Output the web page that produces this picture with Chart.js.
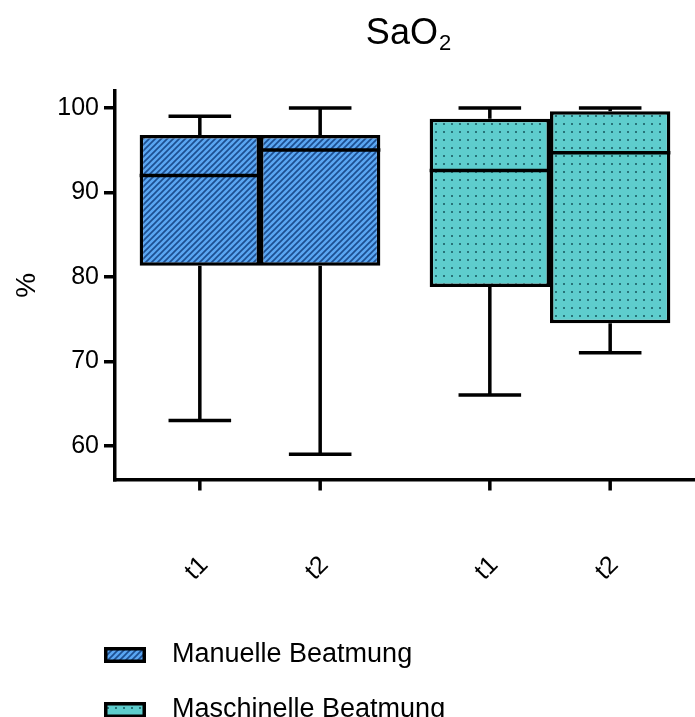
<!DOCTYPE html>
<html>
<head>
<meta charset="utf-8">
<title>SaO2</title>
<script src="https://cdn.jsdelivr.net/npm/chart.js@4"></script>
<style>
  html, body { margin: 0; padding: 0; background: #fff; }
  #chart { display: block; }
</style>
</head>
<body>
<canvas id="chart" width="695" height="717"></canvas>
<script>
// Groups (ventilation mode) and time points
const groups = ['Manuelle Beatmung', 'Maschinelle Beatmung'];
const timepoints = ['t1', 't2'];
const yTicks = [60, 70, 80, 90, 100];

// Box plot statistics per time point, one value per group
const t1Min    = [63, 66];
const t1Q1     = [81.3, 78.8];
const t1Median = [92, 92.6];
const t1Q3     = [96.8, 98.7];
const t1Max    = [99, 100];

const t2Min    = [59, 71];
const t2Q1     = [81.3, 74.5];
const t2Median = [95, 94.7];
const t2Q3     = [96.8, 99.6];
const t2Max    = [100, 100];

const FONT = "'Liberation Sans', Arial, Helvetica, sans-serif";
const INK = '#000';
const LINE = 3.5;

// Fill patterns: blue diagonal hatch and teal dot grid
function hatchPattern() {
  const c = document.createElement('canvas');
  c.width = c.height = 6;
  const g = c.getContext('2d');
  g.fillStyle = '#5aa6f2';
  g.fillRect(0, 0, 6, 6);
  g.strokeStyle = '#1d4f91';
  g.lineWidth = 1.7;
  g.beginPath();
  g.moveTo(-1, 7); g.lineTo(7, -1);
  g.moveTo(-1, 1); g.lineTo(1, -1);
  g.moveTo(5, 7); g.lineTo(7, 5);
  g.stroke();
  return g.createPattern(c, 'repeat');
}
function dotPattern() {
  const c = document.createElement('canvas');
  c.width = c.height = 8;
  const g = c.getContext('2d');
  g.fillStyle = '#5ecdcd';
  g.fillRect(0, 0, 8, 8);
  g.fillStyle = '#287479';
  g.fillRect(3, 3, 2, 2);
  return g.createPattern(c, 'repeat');
}
const groupFills = [hatchPattern(), dotPattern()];

function boxDataset(label, q1, q3, min, median, max) {
  return {
    label,
    data: q1.map((v, i) => [v, q3[i]]),
    whiskerMin: min,
    whiskerMax: max,
    median: median,
    backgroundColor: groupFills,
    borderColor: INK,
    borderWidth: LINE,
    borderSkipped: false,
    categoryPercentage: 0.83,
    barPercentage: 1
  };
}

// Whiskers, caps and medians on top of the floating bars
const boxPlotPlugin = {
  id: 'boxWhiskers',
  afterDatasetsDraw(chart) {
    const { ctx, scales: { y } } = chart;
    ctx.save();
    ctx.strokeStyle = INK;
    ctx.lineWidth = LINE;
    chart.data.datasets.forEach((ds, di) => {
      chart.getDatasetMeta(di).data.forEach((bar, i) => {
        const { x, width } = bar.getProps(['x', 'width'], true);
        const [q1, q3] = ds.data[i];
        const yMin = y.getPixelForValue(ds.whiskerMin[i]);
        const yMax = y.getPixelForValue(ds.whiskerMax[i]);
        const yQ1 = y.getPixelForValue(q1);
        const yQ3 = y.getPixelForValue(q3);
        const yMed = y.getPixelForValue(ds.median[i]);
        const cap = width * 0.26;
        ctx.beginPath();
        ctx.moveTo(x, yQ3); ctx.lineTo(x, yMax);
        ctx.moveTo(x - cap, yMax); ctx.lineTo(x + cap, yMax);
        ctx.moveTo(x, yQ1); ctx.lineTo(x, yMin);
        ctx.moveTo(x - cap, yMin); ctx.lineTo(x + cap, yMin);
        ctx.moveTo(x - width / 2, yMed); ctx.lineTo(x + width / 2, yMed);
        ctx.stroke();
      });
    });
    ctx.restore();
  }
};

// Per-box tick marks and rotated time-point labels under the x axis
const xLabelPlugin = {
  id: 'boxTicks',
  afterDraw(chart) {
    const { ctx, chartArea } = chart;
    ctx.save();
    ctx.strokeStyle = INK;
    ctx.lineWidth = LINE;
    ctx.fillStyle = INK;
    ctx.font = `25px ${FONT}`;
    ctx.textAlign = 'center';
    ctx.textBaseline = 'middle';
    chart.data.datasets.forEach((ds, di) => {
      chart.getDatasetMeta(di).data.forEach((bar) => {
        const { x } = bar.getProps(['x'], true);
        ctx.beginPath();
        ctx.moveTo(x, chartArea.bottom);
        ctx.lineTo(x, chartArea.bottom + 11);
        ctx.stroke();
        ctx.save();
        ctx.translate(x - 3, chartArea.bottom + 89);
        ctx.rotate(-Math.PI / 4);
        ctx.fillText(ds.label, 0, 0);
        ctx.restore();
      });
    });
    ctx.restore();
  }
};

// Title with subscript
const titlePlugin = {
  id: 'subTitle',
  afterDraw(chart) {
    const { ctx, chartArea } = chart;
    const main = 'SaO', sub = '2';
    ctx.save();
    ctx.fillStyle = INK;
    ctx.textBaseline = 'alphabetic';
    ctx.textAlign = 'left';
    ctx.font = `36px ${FONT}`;
    const wMain = ctx.measureText(main).width;
    ctx.font = `22px ${FONT}`;
    const wSub = ctx.measureText(sub).width;
    const cx = (chartArea.left + chartArea.right) / 2 + 3;
    const x0 = cx - (wMain + wSub) / 2;
    ctx.font = `36px ${FONT}`;
    ctx.fillText(main, x0, 44);
    ctx.font = `22px ${FONT}`;
    ctx.fillText(sub, x0 + wMain + 1, 50);
    ctx.restore();
  }
};

// Vertical legend below the axis
const legendPlugin = {
  id: 'groupLegend',
  afterDraw(chart) {
    const { ctx } = chart;
    ctx.save();
    ctx.font = `27px ${FONT}`;
    ctx.textAlign = 'left';
    ctx.textBaseline = 'middle';
    groups.forEach((name, i) => {
      const cy = 655 + i * 55;
      ctx.fillStyle = groupFills[i];
      ctx.fillRect(104, cy - 8, 42, 16);
      ctx.strokeStyle = INK;
      ctx.lineWidth = LINE;
      ctx.strokeRect(105.75, cy - 6.25, 38.5, 12.5);
      ctx.fillStyle = INK;
      ctx.fillText(name, 172, cy);
    });
    ctx.restore();
  }
};

new Chart(document.getElementById('chart'), {
  type: 'bar',
  data: {
    labels: groups,
    datasets: [
      boxDataset(timepoints[0], t1Q1, t1Q3, t1Min, t1Median, t1Max),
      boxDataset(timepoints[1], t2Q1, t2Q3, t2Min, t2Median, t2Max)
    ]
  },
  options: {
    responsive: false,
    animation: false,
    devicePixelRatio: 1,
    layout: { padding: { top: 91, right: 0, bottom: 0, left: 0 } },
    plugins: {
      legend: { display: false },
      title: { display: false },
      tooltip: { enabled: false }
    },
    scales: {
      x: {
        grid: { display: false },
        ticks: { display: false },
        border: { display: true, width: LINE, color: INK },
        afterFit: (s) => { s.height = 237.5; }
      },
      y: {
        min: 56,
        max: 102,
        afterBuildTicks: (s) => { s.ticks = yTicks.map(v => ({ value: v })); },
        grid: { drawOnChartArea: false, drawTicks: true, tickLength: 11, lineWidth: LINE, color: INK },
        border: { display: true, width: LINE, color: INK },
        ticks: { color: INK, padding: 5, font: { family: FONT, size: 25 } },
        title: {
          display: true, text: '%', color: INK,
          font: { family: FONT, size: 28 },
          padding: { top: 10, bottom: 0 }
        },
        afterFit: (s) => { s.width = 115; }
      }
    }
  },
  plugins: [boxPlotPlugin, xLabelPlugin, titlePlugin, legendPlugin]
});
</script>
</body>
</html>
